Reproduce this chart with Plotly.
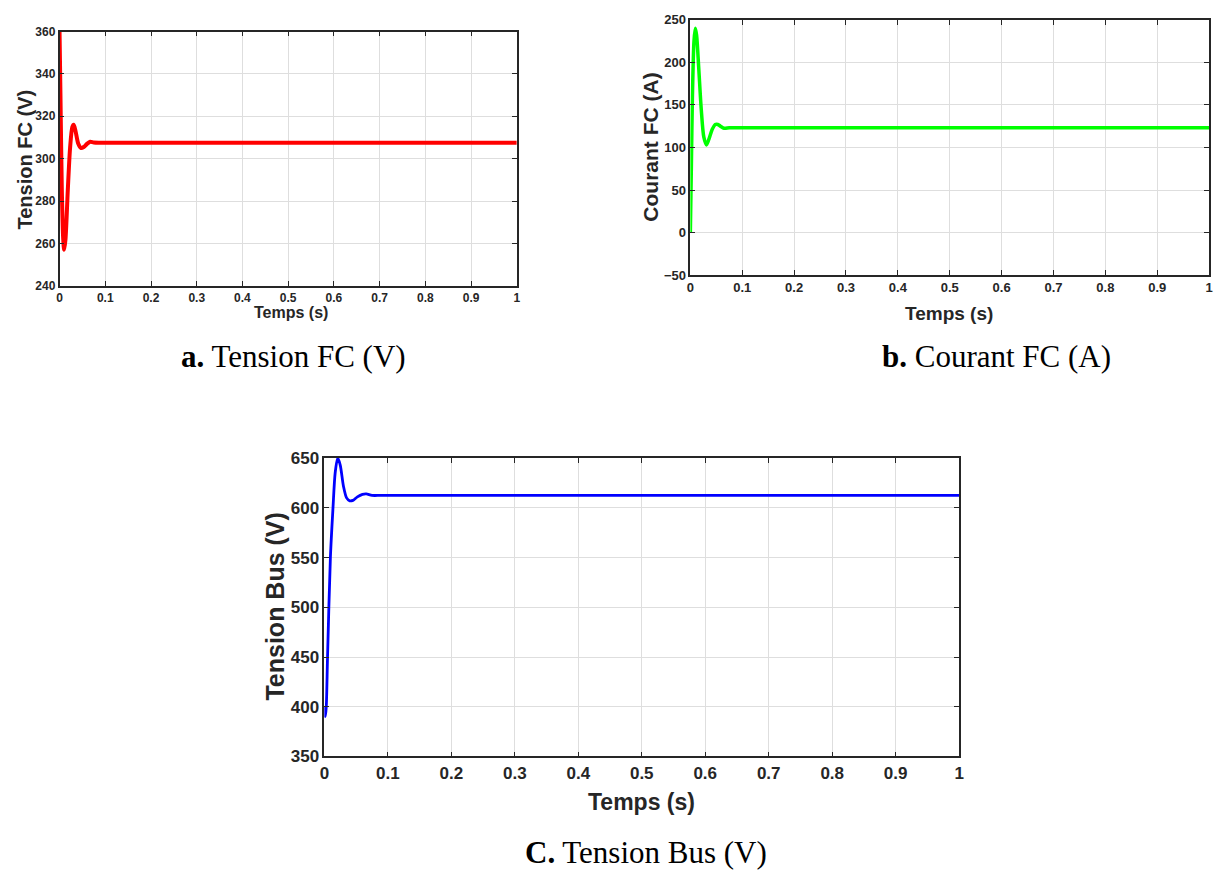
import plotly.graph_objects as go

W, H = 1224, 879

# ---- data ----
t_fc_v = [0, 0.002, 0.005, 0.008, 0.010, 0.013, 0.018, 0.023, 0.028, 0.031, 0.035, 0.041,
          0.047, 0.053, 0.060, 0.067, 0.075, 0.09, 0.2, 0.3, 0.4, 0.5, 0.6, 0.7, 0.8, 0.9, 1.0]
v_fc = [360, 330, 285, 262, 257, 262, 285, 305, 315, 316, 313, 307,
        305, 305.5, 307, 308, 307.6, 307.5, 307.5, 307.5, 307.5, 307.5, 307.5, 307.5, 307.5, 307.5, 307.5]

t_fc_i = [0, 0.002, 0.004, 0.007, 0.0095, 0.012, 0.016, 0.021, 0.026, 0.031, 0.036, 0.042,
          0.048, 0.053, 0.058, 0.065, 0.075, 0.09, 0.2, 0.3, 0.4, 0.5, 0.6, 0.7, 0.8, 0.9, 1.0]
i_fc = [0, 80, 160, 225, 240, 232, 195, 145, 112, 103, 110, 121,
        127, 127, 125, 122.5, 123, 123, 123, 123, 123, 123, 123, 123, 123, 123, 123]

t_bus = [0, 0.0015, 0.003, 0.005, 0.0095, 0.0136, 0.017, 0.021, 0.025, 0.030, 0.035, 0.040,
         0.045, 0.052, 0.060, 0.066, 0.075, 0.09, 0.2, 0.3, 0.4, 0.5, 0.6, 0.7, 0.8, 0.9, 1.0]
v_bus = [400, 390, 400, 450, 550, 600, 635, 650, 643, 622, 610, 607,
         607.5, 611, 613.5, 614, 612.5, 612.5, 612.5, 612.5, 612.5, 612.5, 612.5, 612.5, 612.5, 612.5, 612.5]

x_ticks = [0, 0.1, 0.2, 0.3, 0.4, 0.5, 0.6, 0.7, 0.8, 0.9, 1]
x_ticktext = ["0", "0.1", "0.2", "0.3", "0.4", "0.5", "0.6", "0.7", "0.8", "0.9", "1"]
ya_ticks = [240, 260, 280, 300, 320, 340, 360]
yb_ticks = [-50, 0, 50, 100, 150, 200, 250]
yc_ticks = [350, 400, 450, 500, 550, 600, 650]

AX = "#262626"
GRID = "#dedede"
FONT = "Liberation Sans"


def px(x):
    return x / W


def py(y):
    return 1 - y / H


fig = go.Figure()
fig.add_trace(go.Scatter(x=t_fc_v, y=v_fc, mode="lines", line=dict(color="#ff0000", width=4, shape="spline", smoothing=0.8),
                         xaxis="x", yaxis="y", showlegend=False))
fig.add_trace(go.Scatter(x=t_fc_i, y=i_fc, mode="lines", line=dict(color="#00ff00", width=3.5, shape="spline", smoothing=0.8),
                         xaxis="x2", yaxis="y2", showlegend=False))
fig.add_trace(go.Scatter(x=t_bus, y=v_bus, mode="lines", line=dict(color="#0000ff", width=2.8, shape="spline", smoothing=0.8),
                         xaxis="x3", yaxis="y3", showlegend=False))


def xa(dom, anchor, fs):
    return dict(domain=dom, anchor=anchor, range=[0, 1], tickvals=x_ticks, ticktext=x_ticktext,
                showgrid=True, gridcolor=GRID, gridwidth=1, zeroline=False,
                showline=True, linecolor=AX, linewidth=1.5, mirror="allticks",
                ticks="inside", ticklen=5, tickcolor=AX, tickwidth=1.2,
                tickfont=dict(family=FONT, size=fs, color=AX, weight="bold"))


def ya(dom, anchor, rng, tv, fs):
    return dict(domain=dom, anchor=anchor, range=rng, tickvals=tv,
                showgrid=True, gridcolor=GRID, gridwidth=1, zeroline=False,
                showline=True, linecolor=AX, linewidth=1.5, mirror="allticks",
                ticks="inside", ticklen=5, tickcolor=AX, tickwidth=1.2,
                tickfont=dict(family=FONT, size=fs, color=AX, weight="bold"))


fig.update_layout(
    width=W, height=H, margin=dict(l=0, r=0, t=0, b=0),
    paper_bgcolor="white", plot_bgcolor="white",
    xaxis=xa([px(55), px(516)], "y", 12),
    yaxis=ya([py(283), py(23)], "x", [240, 360], ya_ticks, 12),
    xaxis2=xa([px(691), px(1214)], "y2", 13),
    yaxis2=ya([py(272), py(11)], "x2", [-50, 250], yb_ticks, 13),
    xaxis3=xa([px(322), px(962)], "y3", 17),
    yaxis3=ya([py(764), py(459)], "x3", [350, 650], yc_ticks, 17),
)

ann = []
bold = dict(family=FONT, color=AX, weight="bold")
# axis titles
ann.append(dict(text="Temps (s)", x=px(288), y=py(310), font=dict(size=16, **bold)))
ann.append(dict(text="Tension FC (V)", x=px(20), y=py(154), textangle=-90, font=dict(size=20, **bold)))
ann.append(dict(text="Temps (s)", x=px(952), y=py(311), font=dict(size=19, **bold)))
ann.append(dict(text="Courant FC (A)", x=px(651), y=py(141), textangle=-90, font=dict(size=21, **bold)))
ann.append(dict(text="Temps (s)", x=px(642), y=py(811), font=dict(size=23, **bold)))
ann.append(dict(text="Tension Bus (V)", x=px(272), y=py(611), textangle=-90, font=dict(size=25, **bold)))
# captions
serif = dict(family="Liberation Serif", color="black")
ann.append(dict(text="<b>a.</b> Tension FC (V)", x=px(291), y=py(355), font=dict(size=31, **serif)))
ann.append(dict(text="<b>b.</b> Courant FC (A)", x=px(1000), y=py(355), font=dict(size=31, **serif)))
ann.append(dict(text="<b>C.</b> Tension Bus (V)", x=px(646), y=py(862), font=dict(size=31, **serif)))

for a in ann:
    a.update(xref="paper", yref="paper", showarrow=False, xanchor="center", yanchor="middle")
fig.update_layout(annotations=ann)

fig.write_html("out.html")
